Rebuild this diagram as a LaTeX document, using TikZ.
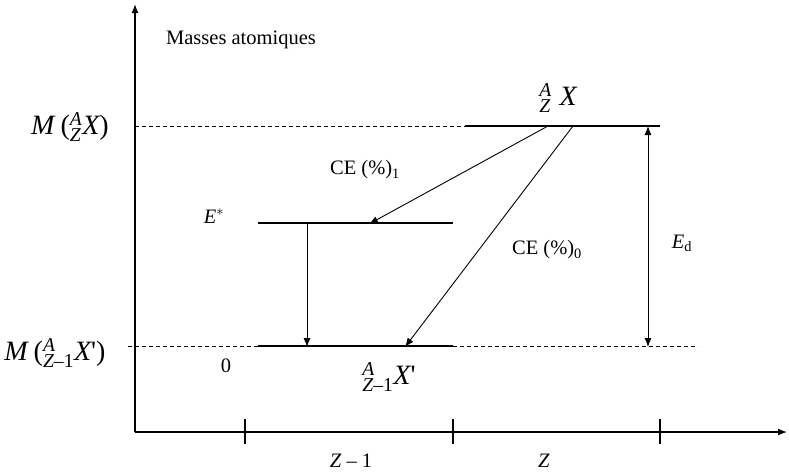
\documentclass[tikz,border=0pt]{standalone}
\usepackage{amsmath}
\usepackage{fontspec}
\setmainfont{Liberation Serif}
\usepackage{tikz}
\usetikzlibrary{arrows.meta,positioning,calc}
\newcommand{\nuc}[3]{${}^{\textit{#1}}_{#2}\textit{#3}$}
\newcommand{\zmo}{\textit{Z}\textup{--1}}

\begin{document}
\begin{tikzpicture}[x=1pt,y=-1pt,>={Latex[length=9pt,width=7pt]},
  font=\fontsize{20.5}{24}\selectfont,
  level/.style={line width=2.4pt},
  guide/.style={line width=0.8pt,dash pattern=on 4pt off 3pt},
  trans/.style={->,line width=0.9pt},
  big/.style={font=\fontsize{28}{32}\selectfont}]
\useasboundingbox (0,0) rectangle (789,475);
% axes
\coordinate (O) at (135,432);
\coordinate (ytop) at (135,4);
\coordinate (xend) at (787,432);
\draw[->,line width=1.3pt] (O) -- (ytop);
\draw[->,line width=1.3pt] (O) -- (xend);
\foreach \t in {245,453,660}
  \draw[line width=1.3pt] (\t,419) -- (\t,444);
\node (masses) at (241,40) {Masses atomiques};
\node (zm) at (351,461) {\textit{Z} -- 1};
\node (zz) at (544,461) {\textit{Z}};
% levels
\coordinate (hiL) at (465,126); \coordinate (hiR) at (660,126);
\coordinate (exL) at (258,223); \coordinate (exR) at (453,223);
\coordinate (loL) at (258,346); \coordinate (loR) at (453,346);
\draw[level] (hiL) -- (hiR);
\draw[level] (exL) -- (exR);
\draw[level] (loL) -- (loR);
\coordinate (hiA) at (135,126); \coordinate (loA) at (128,346);
\coordinate (loE) at (698,346);
\draw[guide] (hiA) -- (hiL);
\draw[guide] (loA) -- (loL);
\draw[guide] (loR) -- (loE);
% labels
\node[big] (mhi) at (70,127) {\textit{M}\,(\nuc{A}{\textit{Z}}{X})};
\node[big] (mlo) at (55,353) {\textit{M}\,(\nuc{A}{\zmo}{X}\textquotesingle)};
\node (zero) at (226,366) {0};
\node (estar) at (214,216) {\textit{E}$^{*}$};
\node[big] (parent) at (558,98) {\nuc{A\,}{\textit{Z}}{\,X}};
\node[big] (daughter) at (389,377) {\nuc{A}{\zmo}{X}\textquotesingle};
\node (ce1) at (365,170) {CE (\%)$_{\text{1}}$};
\node (ce0) at (547,250) {CE (\%)$_{\text{0}}$};
\node (ed) at (682,243) {\textit{E}$_{\text{d}}$};
% transitions
\coordinate (s1) at (548,126); \coordinate (t1) at (369,224);
\coordinate (s0) at (573,126); \coordinate (t0) at (405,347);
\coordinate (gs) at (307,223); \coordinate (gt) at (307,347);
\coordinate (dt) at (648,126); \coordinate (db) at (648,347);
\draw[trans] (s1) -- (t1);
\draw[trans] (s0) -- (t0);
\draw[trans] (gs) -- (gt);
\draw[<->,line width=0.9pt] (dt) -- (db);
\end{tikzpicture}
\end{document}
